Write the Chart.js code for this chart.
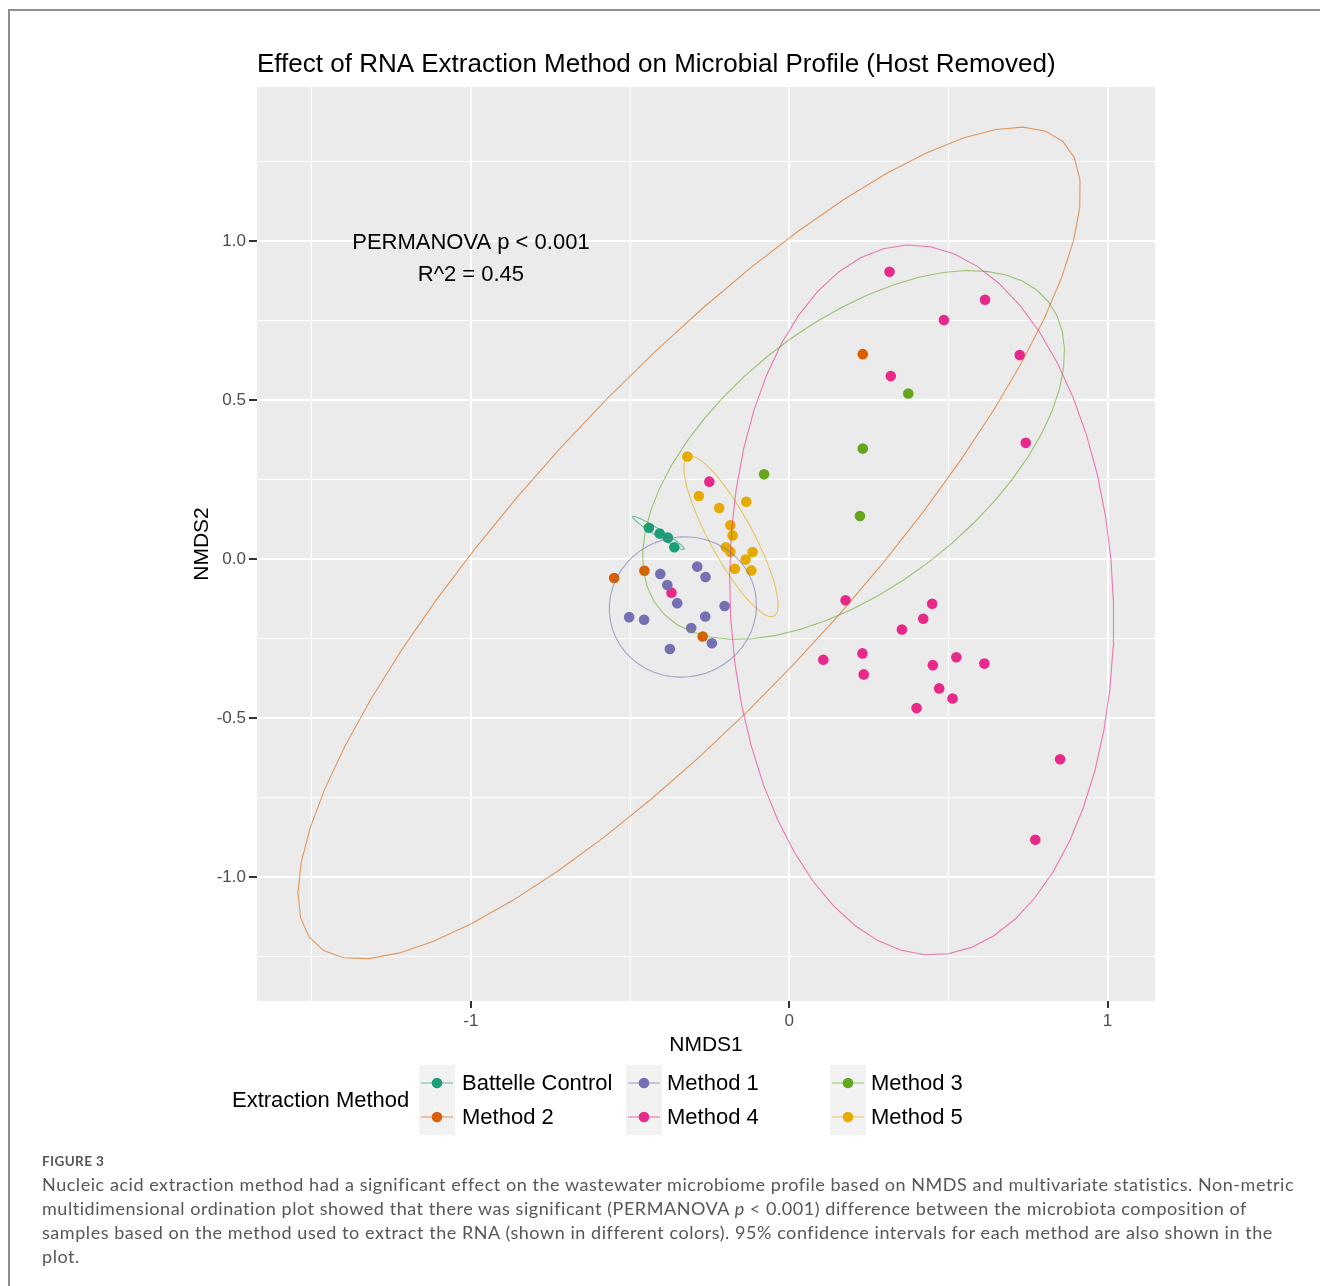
<!DOCTYPE html>
<html>
<head>
<meta charset="utf-8">
<title>NMDS – RNA extraction method</title>
<script src="https://cdn.jsdelivr.net/npm/chart.js@4.4.1/dist/chart.umd.min.js"></script>
<style>
  html, body { margin: 0; padding: 0; background: #ffffff; }
  #figure { position: relative; width: 1320px; height: 1286px; overflow: hidden; }
  #frame { position: absolute; left: 8px; top: 9px; width: 1330px; height: 1300px;
           border-top: 2px solid #8e8e8e; border-left: 2px solid #8e8e8e; }
  #nmds { position: absolute; left: 0; top: 0; }
  #caption { position: absolute; left: 42px; top: 1151px; width: 1275px;
             font-family: Lato, "Open Sans", sans-serif; color: #575757; }
  #caption .label { font-size: 13.5px; font-weight: 700; line-height: 20px; letter-spacing: 0.4px; }
  #caption .text { font-size: 18px; line-height: 24px; white-space: nowrap; margin-top: 1px; letter-spacing: 0.55px; }
</style>
</head>
<body>
<div id="figure">
  <div id="frame"></div>
  <canvas id="nmds" width="1320" height="1286"></canvas>
  <div id="caption">
    <div class="label">FIGURE 3</div>
    <div class="text">
      Nucleic acid extraction method had a significant effect on the wastewater microbiome profile based on NMDS and multivariate statistics. Non-metric<br>
      multidimensional ordination plot showed that there was significant (PERMANOVA <i>p</i> &lt; 0.001) difference between the microbiota composition of<br>
      samples based on the method used to extract the RNA (shown in different colors). 95% confidence intervals for each method are also shown in the<br>
      plot.
    </div>
  </div>
</div>

<script>
// ---- NMDS site scores per extraction method ----
const battelleX = [-0.441, -0.407, -0.381, -0.361];
const battelleY = [0.098, 0.080, 0.067, 0.037];

const method1X = [-0.405, -0.289, -0.263, -0.383, -0.352, -0.503, -0.456, -0.203, -0.264, -0.308, -0.243, -0.375];
const method1Y = [-0.047, -0.024, -0.057, -0.082, -0.139, -0.183, -0.191, -0.148, -0.181, -0.217, -0.265, -0.283];

const method2X = [-0.550, -0.455, -0.272, 0.231];
const method2Y = [-0.060, -0.037, -0.244, 0.644];

const method3X = [-0.079, 0.374, 0.231, 0.222];
const method3Y = [0.266, 0.520, 0.347, 0.135];

const method4X = [0.315, 0.615, 0.486, 0.724, 0.319, 0.743, -0.251, -0.370, 0.177, 0.449, 0.421, 0.354,
                  0.107, 0.230, 0.234, 0.451, 0.525, 0.613, 0.471, 0.513, 0.400, 0.851, 0.773];
const method4Y = [0.903, 0.815, 0.751, 0.641, 0.575, 0.365, 0.243, -0.106, -0.130, -0.141, -0.188, -0.222,
                  -0.317, -0.297, -0.363, -0.334, -0.309, -0.329, -0.407, -0.439, -0.469, -0.630, -0.883];

const method5X = [-0.320, -0.284, -0.220, -0.135, -0.185, -0.178, -0.199, -0.185, -0.115, -0.137, -0.171, -0.119];
const method5Y = [0.322, 0.198, 0.160, 0.180, 0.106, 0.074, 0.037, 0.023, 0.022, -0.002, -0.031, -0.036];

// ---- groups (same order in every array below) ----
const groupNames  = ['Battelle Control', 'Method 1', 'Method 2', 'Method 3', 'Method 4', 'Method 5'];
const groupColors = ['#1B9E77', '#7570B3', '#D95F02', '#66A61E', '#E7298A', '#E6AB02'];
const groupX = [battelleX, method1X, method2X, method3X, method4X, method5X];
const groupY = [battelleY, method1Y, method2Y, method3Y, method4Y, method5Y];

// ---- 95% confidence ellipses: centre, semi-axes and rotation of the major axis ----
const ellipseCenterX = [-0.411, -0.334, -0.314, 0.202, 0.416, -0.183];
const ellipseCenterY = [0.082, -0.151, 0.050, 0.327, -0.129, 0.071];
const ellipseMajor   = [0.096, 0.232, 1.724, 0.779, 1.117, 0.285];
const ellipseMinor   = [0.011, 0.220, 0.500, 0.411, 0.602, 0.068];
const ellipseAngle   = [-32.4, 14.0, 47.1, 38.2, 92.4, -61.6];

// ---- axes ----
const xMin = -1.672, xMax = 1.149;
const yMin = -1.390, yMax = 1.484;
const xTickLabels = { '-1': '-1', '0': '0', '1': '1' };
const yTickLabels = { '1': '1.0', '0.5': '0.5', '0': '0.0', '-0.5': '-0.5', '-1': '-1.0' };

// legend columns, top row first
const legendColumns = [['Battelle Control', 'Method 2'], ['Method 1', 'Method 4'], ['Method 3', 'Method 5']];

const FONT = '"Liberation Sans", Arial, Helvetica, sans-serif';

function withAlpha(hex, a) {
  const n = parseInt(hex.slice(1), 16);
  return `rgba(${(n >> 16) & 255},${(n >> 8) & 255},${n & 255},${a})`;
}

function ellipseOutline(i, segments = 51) {
  const t = ellipseAngle[i] * Math.PI / 180;
  const pts = [];
  for (let k = 0; k <= segments; k++) {
    const s = 2 * Math.PI * k / segments;
    const u = ellipseMajor[i] * Math.cos(s);
    const v = ellipseMinor[i] * Math.sin(s);
    pts.push({ x: ellipseCenterX[i] + u * Math.cos(t) - v * Math.sin(t),
               y: ellipseCenterY[i] + u * Math.sin(t) + v * Math.cos(t) });
  }
  return pts;
}

const datasets = [];
groupNames.forEach((name, i) => {
  datasets.push({
    label: name,
    data: groupX[i].map((x, k) => ({ x, y: groupY[i][k] })),
    pointRadius: 5.3,
    pointBorderWidth: 0,
    pointBackgroundColor: groupColors[i],
    showLine: false,
    order: 2
  });
});
groupNames.forEach((name, i) => {
  datasets.push({
    label: name + ' ellipse',
    data: ellipseOutline(i),
    showLine: true,
    pointRadius: 0,
    borderColor: withAlpha(groupColors[i], 0.6),
    borderWidth: 1.1,
    tension: 0,
    fill: false,
    order: 1
  });
});

const isMultiple = (v, step) => Math.abs(v / step - Math.round(v / step)) < 1e-6;

// panel background, title, annotation, axis titles and legend
const decorations = {
  id: 'decorations',
  beforeDraw(chart) {
    const { ctx, chartArea: a } = chart;
    ctx.save();
    ctx.fillStyle = '#EBEBEB';
    ctx.fillRect(a.left, a.top, a.right - a.left, a.bottom - a.top);
    ctx.restore();
  },
  afterDraw(chart) {
    const { ctx, chartArea: a } = chart;
    const xs = chart.scales.x, ys = chart.scales.y;
    ctx.save();
    ctx.fillStyle = '#000000';

    // title
    ctx.font = `26px ${FONT}`;
    ctx.textAlign = 'left';
    ctx.textBaseline = 'alphabetic';
    ctx.fillText('Effect of RNA Extraction Method on Microbial Profile (Host Removed)', a.left, 72);

    // PERMANOVA annotation
    ctx.font = `22px ${FONT}`;
    ctx.textAlign = 'center';
    ctx.fillText('PERMANOVA p < 0.001', xs.getPixelForValue(-1), ys.getPixelForValue(1.0) + 8);
    ctx.fillText('R^2 = 0.45', xs.getPixelForValue(-1), ys.getPixelForValue(0.9) + 8);

    // axis titles
    ctx.font = `21px ${FONT}`;
    ctx.fillText('NMDS1', (a.left + a.right) / 2, 1051);
    ctx.save();
    ctx.translate(207.5, (a.top + a.bottom) / 2);
    ctx.rotate(-Math.PI / 2);
    ctx.fillText('NMDS2', 0, 0);
    ctx.restore();

    // legend
    ctx.font = `22px ${FONT}`;
    ctx.textAlign = 'left';
    ctx.textBaseline = 'middle';
    ctx.fillText('Extraction Method', 232, 1101);
    const keyLeft = [419, 626, 830];
    const textLeft = [462, 667, 871];
    const rowY = [1083, 1117];
    legendColumns.forEach((col, c) => {
      ctx.fillStyle = '#F2F2F2';
      ctx.fillRect(keyLeft[c], 1065, 36, 70);
      col.forEach((name, r) => {
        const g = groupNames.indexOf(name);
        const cx = keyLeft[c] + 18, cy = rowY[r];
        ctx.strokeStyle = withAlpha(groupColors[g], 0.6);
        ctx.lineWidth = 1.1;
        ctx.beginPath();
        ctx.moveTo(keyLeft[c] + 2, cy);
        ctx.lineTo(keyLeft[c] + 34, cy);
        ctx.stroke();
        ctx.fillStyle = groupColors[g];
        ctx.beginPath();
        ctx.arc(cx, cy, 5.3, 0, Math.PI * 2);
        ctx.fill();
        ctx.fillStyle = '#000000';
        ctx.fillText(name, textLeft[c], cy + 1);
      });
    });
    ctx.restore();
  }
};

new Chart(document.getElementById('nmds'), {
  type: 'scatter',
  data: { datasets },
  plugins: [decorations],
  options: {
    responsive: false,
    animation: false,
    events: [],
    layout: { padding: { left: 0, top: 87, right: 165, bottom: 245 } },
    plugins: { legend: { display: false }, tooltip: { enabled: false }, title: { display: false } },
    scales: {
      x: {
        type: 'linear', min: xMin, max: xMax,
        afterBuildTicks: s => { s.ticks = s.ticks.filter(t => isMultiple(t.value, 0.5)); },
        afterFit: s => { s.height = 40; },
        border: { display: false },
        grid: {
          color: '#FFFFFF',
          lineWidth: c => isMultiple(c.tick.value, 1) ? 2 : 1,
          drawTicks: true, tickLength: 7,
          tickColor: c => isMultiple(c.tick.value, 1) ? '#333333' : 'rgba(0,0,0,0)',
          tickWidth: 2
        },
        ticks: {
          stepSize: 0.5, includeBounds: false, autoSkip: false, maxRotation: 0, padding: 3,
          color: '#4D4D4D', font: { family: FONT, size: 17 },
          callback: v => xTickLabels[String(Math.round(v * 100) / 100)] ?? ''
        }
      },
      y: {
        type: 'linear', min: yMin, max: yMax,
        afterBuildTicks: s => { s.ticks = s.ticks.filter(t => isMultiple(t.value, 0.25)); },
        afterFit: s => { s.width = 257; },
        border: { display: false },
        grid: {
          color: '#FFFFFF',
          lineWidth: c => isMultiple(c.tick.value, 0.5) ? 2 : 1,
          drawTicks: true, tickLength: 8,
          tickColor: c => isMultiple(c.tick.value, 0.5) ? '#333333' : 'rgba(0,0,0,0)',
          tickWidth: 2
        },
        ticks: {
          stepSize: 0.25, includeBounds: false, autoSkip: false, padding: 3,
          color: '#4D4D4D', font: { family: FONT, size: 17 },
          callback: v => yTickLabels[String(Math.round(v * 100) / 100)] ?? ''
        }
      }
    }
  }
});
</script>
</body>
</html>
